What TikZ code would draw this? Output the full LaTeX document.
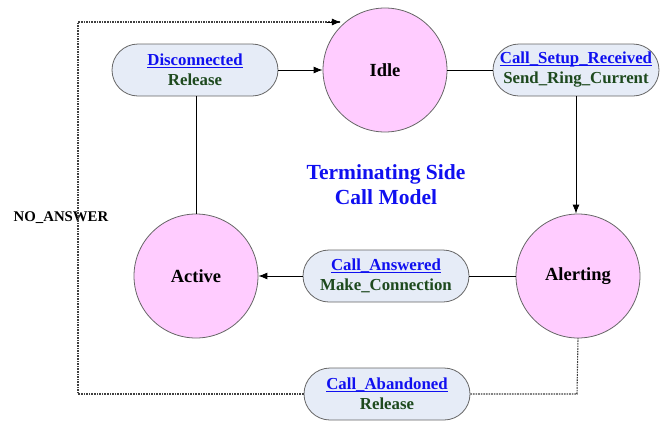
\documentclass[tikz,border=0pt]{standalone}
\usepackage{fontspec}
\setmainfont{Liberation Serif}
\usetikzlibrary{shapes.misc,arrows.meta}
\definecolor{statefill}{HTML}{FFCCFF}
\definecolor{boxfill}{HTML}{E6ECF7}
\definecolor{edgegray}{HTML}{666666}
\definecolor{linkblue}{HTML}{1010F0}
\definecolor{actgreen}{HTML}{1E4A1E}
\tikzset{
  state/.style={circle, draw=edgegray, line width=0.8pt, fill=statefill,
    minimum size=124pt, inner sep=0pt, font=\fontsize{18.5}{22}\selectfont\bfseries},
  trans/.style={rounded rectangle, draw=edgegray, line width=0.8pt, fill=boxfill,
    minimum width=166pt, minimum height=52pt, inner sep=0pt, align=center,
    font=\fontsize{16.8}{20}\selectfont\bfseries},
  conn/.style={line width=0.9pt, black},
  arr/.style={conn, -{Latex[length=9pt,width=7pt]}},
  dotted line/.style={line width=1.1pt, black!75, dash pattern=on 1.6pt off 1pt},
}
% event name underlined just below the baseline
\newcommand{\evtline}[1]{\setbox0\hbox{#1}\rlap{\rule[-2.2pt]{\wd0}{0.9pt}}\box0}
\newcommand{\evt}[2]{{\color{linkblue}\evtline{#1}}\\{\color{actgreen}#2}}
\begin{document}
\begin{tikzpicture}[x=1pt,y=-1pt]
\useasboundingbox (0,0) rectangle (670,421);

% states
\node[state] (idle) at (385,70) {Idle};
\node[state] (alert) at (578,276) {Alerting};
\node[state] (active) at (196,276) {Active};

% transition boxes
\node[trans] (disc) at (195,70) {\evt{Disconnected}{Release}};
\node[trans] (setup) at (576,70) {\evt{Call\_Setup\_Received}{Send\_Ring\_Current}};
\node[trans] (answ) at (386,276) {\evt{Call\_Answered}{Make\_Connection}};
\node[trans] (aband) at (387,394) {\evt{Call\_Abandoned}{Release}};

% title
\node[align=center, font=\fontsize{21.5}{25}\selectfont\bfseries, text=linkblue] (title) at (386,185)
  {Terminating Side\\Call Model};

% no-answer label
\node[font=\fontsize{14.8}{17}\selectfont\bfseries] (noans) at (61,218) {NO\_ANSWER};

% solid connectors
\draw[conn] (active.north) -- (disc.south -| active.north);
\draw[arr] (disc.east) -- (idle.west);
\draw[conn] (idle.east) -- (setup.west);
\draw[arr] (setup.south) -- (setup.south |- alert.north);
\draw[conn] (alert.west) -- (answ.east);
\draw[arr] (answ.west) -- (active.east);

% dotted no-answer path
\coordinate (c1) at (78,394);
\coordinate (c2) at (78,22);
\coordinate (c3) at (577,394);
\draw[dotted line] (aband.west) -- (c1) -- (c2) -- (idle.north west |- c2)
  coordinate[pos=1] (c4);
\draw[black, line width=0.9pt, -{Latex[length=9pt,width=7pt]}] ([xshift=-14pt]c4) -- (c4);
\draw[dotted line] (aband.east) -- (c3) -- (alert.south);
\end{tikzpicture}
\end{document}
